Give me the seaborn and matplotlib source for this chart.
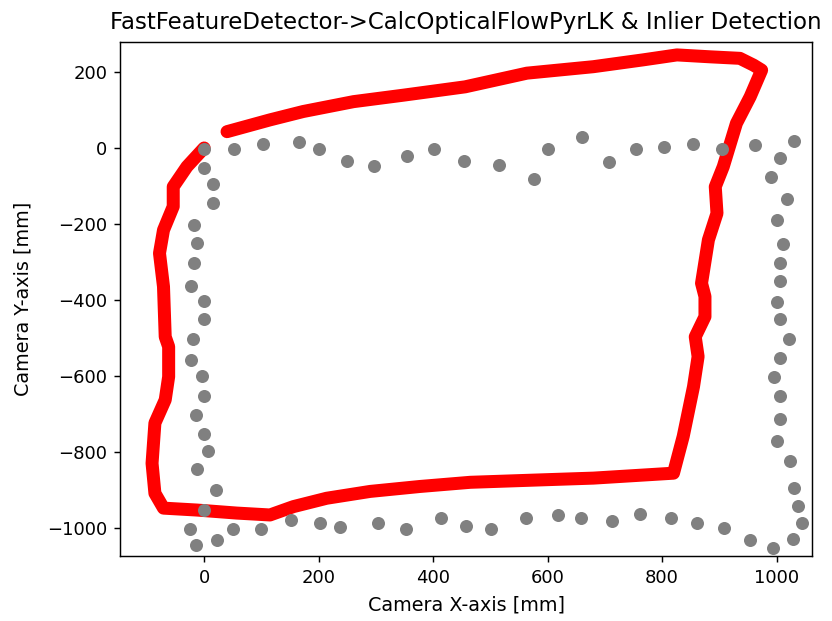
import matplotlib
matplotlib.use("Agg")
import matplotlib.pyplot as plt
import seaborn as sns
import pandas as pd

# Estimated trajectory (red) waypoints, in mm
est_x = [0, -30, -54, -54, -71, -78, -71, -68, -62, -62, -68, -86, -91, -86, -71,
         -13, 57, 115, 156, 214, 290, 377, 465, 581, 680, 820,
         837, 855, 863, 858, 875, 875, 869, 881, 896, 893, 907, 930, 954, 974,
         960, 936, 884, 826, 767, 680, 564, 456, 348, 261, 173, 115, 40]
est_y = [0, -49, -102, -154, -216, -277, -365, -497, -523, -602, -663, -724, -830, -909, -948,
         -953, -961, -966, -944, -922, -904, -891, -880, -874, -869, -856,
         -759, -628, -549, -497, -444, -391, -356, -242, -172, -102, -49, 65, 135, 205,
         218, 236, 240, 245, 232, 214, 197, 161, 139, 122, 96, 74, 43]

# Ground truth (gray) points, in mm
gt_x = [0, 53, 102, 166, 201, 249, 297, 355, 401, 454, 516, 577, 601, 661, 707, 754, 803, 854, 905, 962, 1031,
        1006, 991, 1018, 1001, 1011, 1006, 1006, 1001, 1006, 1021, 1006, 996, 1006, 1006, 1001, 1023, 1031, 1038,
        1045, 1028, 993, 954,
        908, 861, 815, 761, 712, 658, 619, 562, 501, 458, 413, 352, 303, 237, 203, 151, 100, 51, 23, -15, -25,
        0, 21, -12, 6, 0, -15, 0, -3, -23, -20, 0, 0, -23, -17, -12, -17, 15, 15, 0]
gt_y = [-3, -3, 11, 15, -3, -33, -47, -22, -3, -33, -45, -82, -3, 30, -37, -3, 3, 11, -3, 7, 18,
        -26, -77, -133, -189, -254, -303, -351, -406, -451, -503, -554, -602, -654, -713, -772, -824, -894, -942,
        -986, -1030, -1052, -1033,
        -1001, -986, -975, -964, -982, -975, -967, -975, -1003, -994, -975, -1003, -986, -997, -986, -979, -1003,
        -1003, -1033, -1045, -1003,
        -953, -900, -846, -798, -753, -702, -653, -599, -558, -503, -451, -403, -363, -302, -251, -203, -145, -96, -52]

title = "FastFeatureDetector->CalcOpticalFlowPyrLK & Inlier Detection"
xlabel = "Camera X-axis [mm]"
ylabel = "Camera Y-axis [mm]"

est = pd.DataFrame({"x": est_x, "y": est_y})
gt = pd.DataFrame({"x": gt_x, "y": gt_y})

plt.rcParams["font.family"] = ["DejaVu Sans"]
fig = plt.figure(figsize=(832 / 130, 621 / 130), dpi=130)
ax = fig.add_axes([120 / 832, 1 - 556 / 621, (812 - 120) / 832, (556 - 42) / 621])

sns.lineplot(data=est, x="x", y="y", sort=False, estimator=None, ax=ax,
             color="#ff0000", linewidth=7.2, solid_capstyle="round",
             solid_joinstyle="round", zorder=2)
sns.scatterplot(data=gt, x="x", y="y", ax=ax, color="#808080", s=52,
                linewidth=0, zorder=3)

ax.set_xlim(-147, 1062)
ax.set_ylim(-1074, 279)
ax.set_xticks([0, 200, 400, 600, 800, 1000])
ax.set_yticks([-1000, -800, -600, -400, -200, 0, 200])
ax.set_xlabel(xlabel, fontsize=10.6, labelpad=5)
ax.set_ylabel(ylabel, fontsize=10.6, labelpad=8)
ax.set_title(title, fontsize=12.7, pad=7)

fig.savefig("out.png", dpi=130)
